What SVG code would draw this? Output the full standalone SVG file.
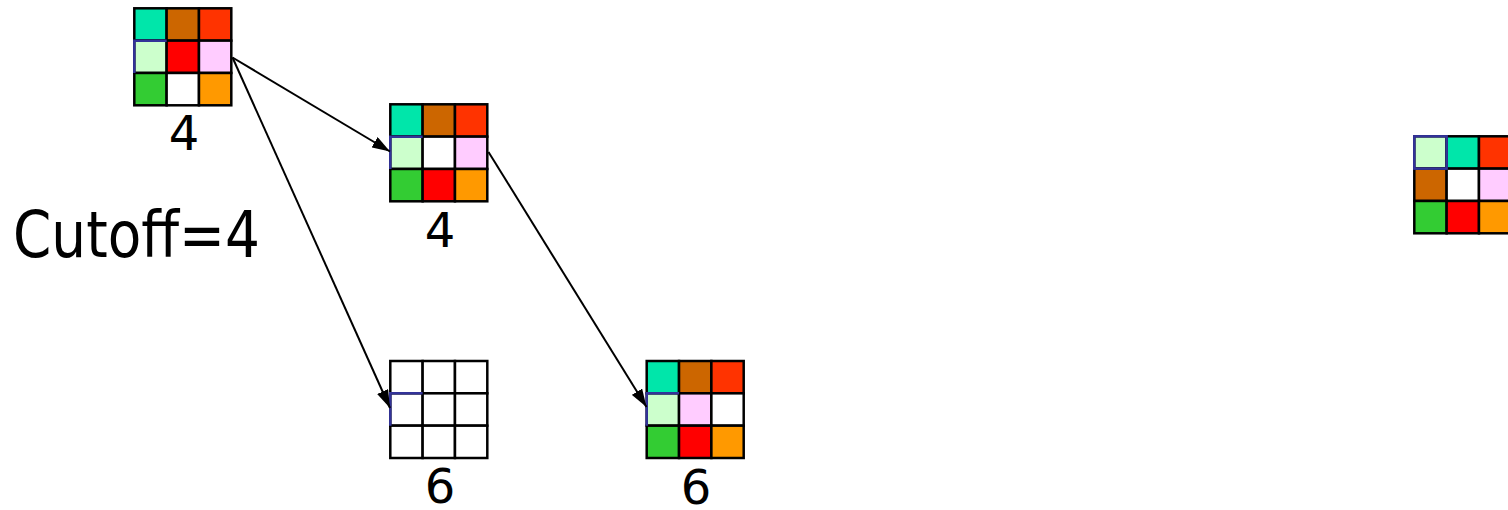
<svg xmlns="http://www.w3.org/2000/svg" width="1508" height="510" viewBox="0 0 1508 510">
<style>
.c{stroke:#000;stroke-width:2.5}
.b{stroke:#333399;stroke-width:2.5;fill:none}
.lbl{font-family:"DejaVu Sans",Verdana,sans-serif;font-size:48px;fill:#000;text-anchor:middle}
.conn{stroke:#000;stroke-width:2;fill:none;marker-end:url(#ah)}
</style>
<defs>
<marker id="ah" viewBox="0 0 18 12" refX="18" refY="6" markerWidth="18" markerHeight="12" markerUnits="userSpaceOnUse" orient="auto">
<path d="M0,0 L18,6 L0,12 z" fill="#000"/>
</marker>
</defs>
<rect width="1508" height="510" fill="#fff"/>
<g id="node1">
<g transform="translate(134.3,8.3)">
<rect class="c" x="0" y="0" width="32.33" height="32.33" fill="#00E6AA"/>
<rect class="c" x="32.33" y="0" width="32.33" height="32.33" fill="#CC6600"/>
<rect class="c" x="64.67" y="0" width="32.33" height="32.33" fill="#FF3300"/>
<rect class="c" x="0" y="32.33" width="32.33" height="32.33" fill="#CCFFCC"/>
<rect class="c" x="32.33" y="32.33" width="32.33" height="32.33" fill="#FF0000"/>
<rect class="c" x="64.67" y="32.33" width="32.33" height="32.33" fill="#FFCCFF"/>
<rect class="c" x="0" y="64.67" width="32.33" height="32.33" fill="#33CC33"/>
<rect class="c" x="32.33" y="64.67" width="32.33" height="32.33" fill="#FFFFFF"/>
<rect class="c" x="64.67" y="64.67" width="32.33" height="32.33" fill="#FF9900"/>
<path class="b" d="M0,64.67 L0,32.33 L32.33,32.33"/>
</g>
<text class="lbl" x="184" y="150">4</text>
</g>
<g id="node2">
<g transform="translate(390.3,104.3)">
<rect class="c" x="0" y="0" width="32.33" height="32.33" fill="#00E6AA"/>
<rect class="c" x="32.33" y="0" width="32.33" height="32.33" fill="#CC6600"/>
<rect class="c" x="64.67" y="0" width="32.33" height="32.33" fill="#FF3300"/>
<rect class="c" x="0" y="32.33" width="32.33" height="32.33" fill="#CCFFCC"/>
<rect class="c" x="32.33" y="32.33" width="32.33" height="32.33" fill="#FFFFFF"/>
<rect class="c" x="64.67" y="32.33" width="32.33" height="32.33" fill="#FFCCFF"/>
<rect class="c" x="0" y="64.67" width="32.33" height="32.33" fill="#33CC33"/>
<rect class="c" x="32.33" y="64.67" width="32.33" height="32.33" fill="#FF0000"/>
<rect class="c" x="64.67" y="64.67" width="32.33" height="32.33" fill="#FF9900"/>
<path class="b" d="M0,64.67 L0,32.33 L32.33,32.33"/>
</g>
<text class="lbl" x="440" y="246.5">4</text>
</g>
<g id="node3">
<g transform="translate(390.3,361)">
<rect class="c" x="0" y="0" width="32.33" height="32.33" fill="#FFFFFF"/>
<rect class="c" x="32.33" y="0" width="32.33" height="32.33" fill="#FFFFFF"/>
<rect class="c" x="64.67" y="0" width="32.33" height="32.33" fill="#FFFFFF"/>
<rect class="c" x="0" y="32.33" width="32.33" height="32.33" fill="#FFFFFF"/>
<rect class="c" x="32.33" y="32.33" width="32.33" height="32.33" fill="#FFFFFF"/>
<rect class="c" x="64.67" y="32.33" width="32.33" height="32.33" fill="#FFFFFF"/>
<rect class="c" x="0" y="64.67" width="32.33" height="32.33" fill="#FFFFFF"/>
<rect class="c" x="32.33" y="64.67" width="32.33" height="32.33" fill="#FFFFFF"/>
<rect class="c" x="64.67" y="64.67" width="32.33" height="32.33" fill="#FFFFFF"/>
<path class="b" d="M0,64.67 L0,32.33 L32.33,32.33"/>
</g>
<text class="lbl" x="440" y="503">6</text>
</g>
<g id="node4">
<g transform="translate(646.7,361)">
<rect class="c" x="0" y="0" width="32.33" height="32.33" fill="#00E6AA"/>
<rect class="c" x="32.33" y="0" width="32.33" height="32.33" fill="#CC6600"/>
<rect class="c" x="64.67" y="0" width="32.33" height="32.33" fill="#FF3300"/>
<rect class="c" x="0" y="32.33" width="32.33" height="32.33" fill="#CCFFCC"/>
<rect class="c" x="32.33" y="32.33" width="32.33" height="32.33" fill="#FFCCFF"/>
<rect class="c" x="64.67" y="32.33" width="32.33" height="32.33" fill="#FFFFFF"/>
<rect class="c" x="0" y="64.67" width="32.33" height="32.33" fill="#33CC33"/>
<rect class="c" x="32.33" y="64.67" width="32.33" height="32.33" fill="#FF0000"/>
<rect class="c" x="64.67" y="64.67" width="32.33" height="32.33" fill="#FF9900"/>
<path class="b" d="M0,64.67 L0,32.33 L32.33,32.33"/>
</g>
<text class="lbl" x="696" y="504">6</text>
</g>
<g id="node5">
<g transform="translate(1414.3,136.3)">
<rect class="c" x="0" y="0" width="32.33" height="32.33" fill="#CCFFCC"/>
<rect class="c" x="32.33" y="0" width="32.33" height="32.33" fill="#00E6AA"/>
<rect class="c" x="64.67" y="0" width="32.33" height="32.33" fill="#FF3300"/>
<rect class="c" x="0" y="32.33" width="32.33" height="32.33" fill="#CC6600"/>
<rect class="c" x="32.33" y="32.33" width="32.33" height="32.33" fill="#FFFFFF"/>
<rect class="c" x="64.67" y="32.33" width="32.33" height="32.33" fill="#FFCCFF"/>
<rect class="c" x="0" y="64.67" width="32.33" height="32.33" fill="#33CC33"/>
<rect class="c" x="32.33" y="64.67" width="32.33" height="32.33" fill="#FF0000"/>
<rect class="c" x="64.67" y="64.67" width="32.33" height="32.33" fill="#FF9900"/>
<rect class="b" x="0" y="0" width="32.33" height="32.33"/>
</g>
</g>
<g id="cutoff">
<text x="13" y="257" font-family="DejaVu Sans, Verdana, sans-serif" font-size="64" textLength="247" lengthAdjust="spacingAndGlyphs" fill="#000">Cutoff=4</text>
</g>
<g id="connectors">
<path class="conn" d="M232.5,57.5 L390,151.5"/>
<path class="conn" d="M232.5,57.5 L390,408"/>
<path class="conn" d="M488.5,152 L646.5,407"/>
</g>
</svg>
